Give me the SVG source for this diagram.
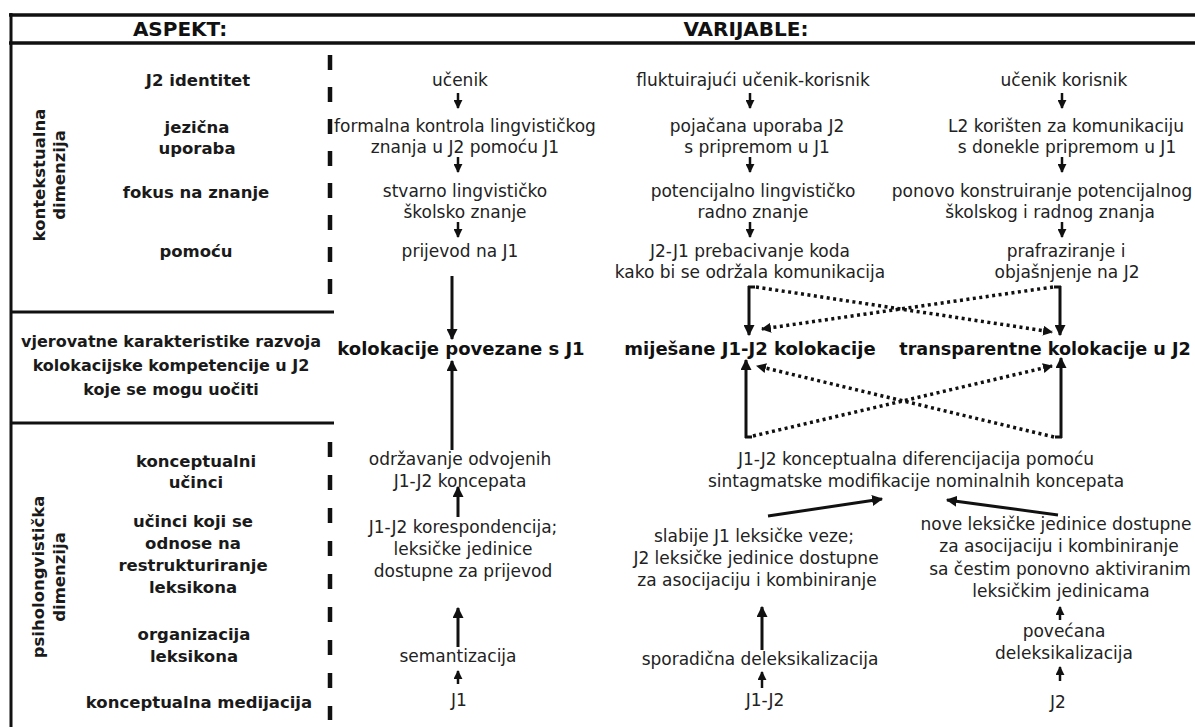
<svg xmlns="http://www.w3.org/2000/svg" width="1195" height="727" viewBox="0 0 1195 727">
<style>
text{font-family:"DejaVu Sans",sans-serif;text-anchor:middle}
.h{font-size:20px;font-weight:bold;fill:#111}
.l{font-size:16.5px;font-weight:bold;fill:#1a1a1a}
.lm{font-size:16px;font-weight:bold;fill:#1a1a1a}
.b{font-size:18px;font-weight:bold;fill:#111}
.t{font-size:17px;fill:#222}
.frame{stroke:#111;fill:none}
.dash{stroke:#111;stroke-width:4.5}
.sa{stroke:#111;stroke-width:2.5;fill:none}
.la{stroke:#111;stroke-width:3;fill:none}
.dot{stroke:#111;stroke-width:3.5;stroke-dasharray:3 3.5;fill:none}
</style>
<defs>
<marker id="ah" viewBox="0 0 10 10" refX="9" refY="5" markerWidth="11" markerHeight="11" markerUnits="userSpaceOnUse" orient="auto"><path d="M0,0 L10,5 L0,10 z" fill="#111"/></marker>
<marker id="as" viewBox="0 0 10 10" refX="9" refY="5" markerWidth="9" markerHeight="9" markerUnits="userSpaceOnUse" orient="auto"><path d="M0,0 L10,5 L0,10 z" fill="#111"/></marker>
<marker id="ad" viewBox="0 0 10 10" refX="9" refY="5" markerWidth="10" markerHeight="10" markerUnits="userSpaceOnUse" orient="auto"><path d="M0,0 L10,5 L0,10 z" fill="#111"/></marker>
</defs>
<rect width="1195" height="727" fill="#fff"/>

<g id="frame">
<line class="frame" x1="9" y1="15" x2="1195" y2="15" stroke-width="3.5"/>
<line class="frame" x1="9" y1="43" x2="1195" y2="43" stroke-width="3.5"/>
<line class="frame" x1="11" y1="13" x2="11" y2="727" stroke-width="3"/>
<line class="frame" x1="10" y1="312" x2="334" y2="312" stroke-width="3"/>
<line class="frame" x1="10" y1="423" x2="334" y2="423" stroke-width="3"/>
<line class="dash" x1="330" y1="55" x2="330" y2="295" stroke-dasharray="15 17"/>
<line class="dash" x1="330" y1="442" x2="330" y2="720" stroke-dasharray="15 18"/>
</g>

<g id="hdr-aspekt"><text class="h" x="180" y="36">ASPEKT:</text></g>
<g id="hdr-varijable"><text class="h" x="746" y="36">VARIJABLE:</text></g>

<g id="dim-kontekst">
<text class="l" transform="translate(45,175) rotate(-90)">kontekstualna</text>
<text class="l" transform="translate(65,175) rotate(-90)">dimenzija</text>
</g>
<g id="dim-psiho">
<text class="l" transform="translate(44,577) rotate(-90)">psiholongvistička</text>
<text class="l" transform="translate(65,577) rotate(-90)">dimenzija</text>
</g>

<g id="a-j2-identitet"><text class="l" x="198" y="86">J2 identitet</text></g>
<g id="a-jezicna-uporaba"><text class="l" x="197" y="133">jezična</text><text class="l" x="197" y="154">uporaba</text></g>
<g id="a-fokus"><text class="l" x="196" y="198">fokus na znanje</text></g>
<g id="a-pomocu"><text class="l" x="196" y="257">pomoću</text></g>
<g id="a-vjerovatne"><text class="lm" x="171" y="347">vjerovatne karakteristike razvoja</text><text class="lm" x="171" y="371">kolokacijske kompetencije u J2</text><text class="lm" x="171" y="395">koje se mogu uočiti</text></g>
<g id="a-konceptualni"><text class="l" x="196" y="467">konceptualni</text><text class="l" x="196" y="488">učinci</text></g>
<g id="a-restrukturiranje"><text class="l" x="193" y="527">učinci koji se</text><text class="l" x="193" y="549">odnose na</text><text class="l" x="193" y="571">restrukturiranje</text><text class="l" x="193" y="593">leksikona</text></g>
<g id="a-organizacija"><text class="l" x="194" y="640">organizacija</text><text class="l" x="194" y="662">leksikona</text></g>
<g id="a-medijacija"><text class="l" x="199" y="708">konceptualna medijacija</text></g>

<g id="c1-ucenik"><text class="t" x="460" y="86">učenik</text></g>
<g id="c1-formalna"><text class="t" x="465" y="132">formalna kontrola lingvističkog</text><text class="t" x="465" y="153">znanja u J2 pomoću J1</text></g>
<g id="c1-stvarno"><text class="t" x="465" y="197">stvarno lingvističko</text><text class="t" x="465" y="218">školsko znanje</text></g>
<g id="c1-prijevod"><text class="t" x="460" y="257">prijevod na J1</text></g>
<g id="c1-kolokacije"><text class="b" x="461" y="355">kolokacije povezane s J1</text></g>
<g id="c1-odrzavanje"><text class="t" x="460" y="465">održavanje odvojenih</text><text class="t" x="460" y="487">J1-J2 koncepata</text></g>
<g id="c1-korespondencija"><text class="t" x="463" y="533">J1-J2 korespondencija;</text><text class="t" x="463" y="555">leksičke jedinice</text><text class="t" x="463" y="577">dostupne za prijevod</text></g>
<g id="c1-semantizacija"><text class="t" x="458" y="662">semantizacija</text></g>
<g id="c1-j1"><text class="t" x="459" y="706">J1</text></g>

<g id="c2-fluktuirajuci"><text class="t" x="753" y="86">fluktuirajući učenik-korisnik</text></g>
<g id="c2-pojacana"><text class="t" x="757" y="132">pojačana uporaba J2</text><text class="t" x="757" y="153">s pripremom u J1</text></g>
<g id="c2-potencijalno"><text class="t" x="753" y="197">potencijalno lingvističko</text><text class="t" x="753" y="218">radno znanje</text></g>
<g id="c2-prebacivanje"><text class="t" x="750" y="257">J2-J1 prebacivanje koda</text><text class="t" x="750" y="278">kako bi se održala komunikacija</text></g>
<g id="c2-mijesane"><text class="b" x="750" y="355">miješane J1-J2 kolokacije</text></g>
<g id="c23-diferencijacija"><text class="t" x="916" y="465">J1-J2 konceptualna diferencijacija pomoću</text><text class="t" x="916" y="487">sintagmatske modifikacije nominalnih koncepata</text></g>
<g id="c2-slabije"><text class="t" x="754" y="542">slabije J1 leksičke veze;</text><text class="t" x="756" y="564">J2 leksičke jedinice dostupne</text><text class="t" x="757" y="586">za asocijaciju i kombiniranje</text></g>
<g id="c2-sporadicna"><text class="t" x="760" y="665">sporadična deleksikalizacija</text></g>
<g id="c2-j1j2"><text class="t" x="765" y="706">J1-J2</text></g>

<g id="c3-ucenik-korisnik"><text class="t" x="1064" y="86">učenik korisnik</text></g>
<g id="c3-l2"><text class="t" x="1066" y="132">L2 korišten za komunikaciju</text><text class="t" x="1067" y="153">s donekle pripremom u J1</text></g>
<g id="c3-ponovo"><text class="t" x="1042" y="197">ponovo konstruiranje potencijalnog</text><text class="t" x="1050" y="218">školskog i radnog znanja</text></g>
<g id="c3-prafraziranje"><text class="t" x="1066" y="257">prafraziranje i</text><text class="t" x="1067" y="278">objašnjenje na J2</text></g>
<g id="c3-transparentne"><text class="b" x="1045" y="355" style="font-size:17.6px">transparentne kolokacije u J2</text></g>
<g id="c3-nove"><text class="t" x="1056" y="530">nove leksičke jedinice dostupne</text><text class="t" x="1059" y="552">za asocijaciju i kombiniranje</text><text class="t" x="1060" y="575">sa čestim ponovno aktiviranim</text><text class="t" x="1061" y="597">leksičkim jedinicama</text></g>
<g id="c3-povecana"><text class="t" x="1064" y="637">povećana</text><text class="t" x="1064" y="659">deleksikalizacija</text></g>
<g id="c3-j2"><text class="t" x="1058" y="708">J2</text></g>

<g id="connectors">
<line class="sa" x1="458" y1="93" x2="458" y2="108" marker-end="url(#as)"/>
<line class="sa" x1="458" y1="157" x2="458" y2="172" marker-end="url(#as)"/>
<line class="sa" x1="458" y1="222" x2="458" y2="237" marker-end="url(#as)"/>
<line class="sa" x1="750" y1="93" x2="750" y2="108" marker-end="url(#as)"/>
<line class="sa" x1="750" y1="157" x2="750" y2="172" marker-end="url(#as)"/>
<line class="sa" x1="750" y1="222" x2="750" y2="237" marker-end="url(#as)"/>
<line class="sa" x1="1062" y1="93" x2="1062" y2="108" marker-end="url(#as)"/>
<line class="sa" x1="1062" y1="157" x2="1062" y2="172" marker-end="url(#as)"/>
<line class="sa" x1="1062" y1="222" x2="1062" y2="237" marker-end="url(#as)"/>

<line class="la" x1="452" y1="276" x2="452" y2="339" marker-end="url(#ah)"/>
<line class="la" x1="452" y1="450" x2="452" y2="361" marker-end="url(#ah)"/>
<line class="la" x1="458" y1="517" x2="458" y2="487" marker-end="url(#ah)"/>
<line class="la" x1="458" y1="647" x2="458" y2="608" marker-end="url(#ah)"/>
<line class="sa" x1="458" y1="684" x2="458" y2="671" marker-end="url(#as)"/>

<line class="la" x1="762" y1="650" x2="762" y2="607" marker-end="url(#ah)"/>
<line class="sa" x1="762" y1="688" x2="762" y2="672" marker-end="url(#as)"/>
<line class="sa" x1="1060" y1="620" x2="1060" y2="607" marker-end="url(#as)"/>
<line class="sa" x1="1060" y1="681" x2="1060" y2="667" marker-end="url(#as)"/>

<line class="la" x1="768" y1="516" x2="882" y2="499" marker-end="url(#ah)"/>
<line class="la" x1="1058" y1="515" x2="947" y2="500" marker-end="url(#ah)"/>

<line class="la" x1="749" y1="286" x2="749" y2="335" marker-end="url(#ah)"/>
<line class="la" x1="1060" y1="286" x2="1060" y2="335" marker-end="url(#ah)"/>
<line class="la" x1="746" y1="438" x2="746" y2="360" marker-end="url(#ah)"/>
<line class="la" x1="1061" y1="438" x2="1061" y2="358" marker-end="url(#ah)"/>
<path class="la" d="M748,287 h7 M1061,287 h-7 M745,437 h7 M1062,437 h-7"/>

<line class="dot" x1="756" y1="287" x2="1052" y2="332" marker-end="url(#ad)"/>
<line class="dot" x1="1053" y1="287" x2="762" y2="329" marker-end="url(#ad)"/>
<line class="dot" x1="753" y1="436" x2="1052" y2="366" marker-end="url(#ad)"/>
<line class="dot" x1="1054" y1="437" x2="757" y2="366" marker-end="url(#ad)"/>
</g>
</svg>
